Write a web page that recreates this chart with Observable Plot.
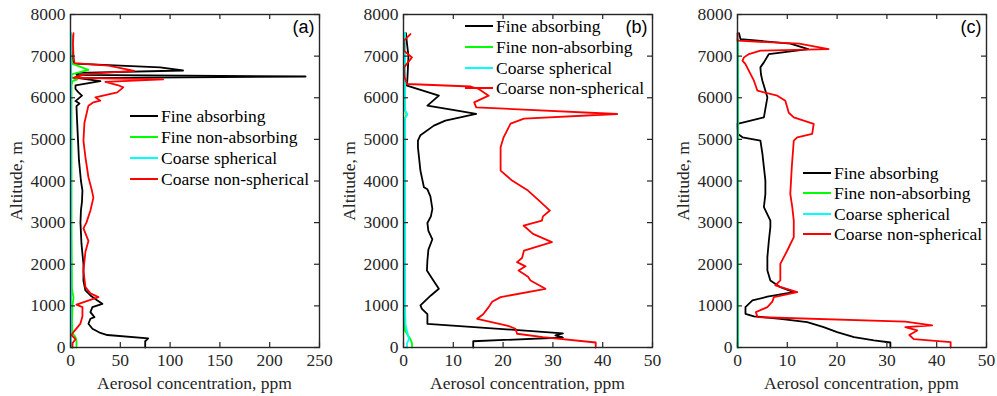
<!DOCTYPE html>
<html><head><meta charset="utf-8">
<script src="https://cdn.jsdelivr.net/npm/d3@7"></script>
<script src="https://cdn.jsdelivr.net/npm/@observablehq/plot@0.6"></script>
<style>
body{margin:0;background:#fff;}
#wrap{position:relative;width:997px;height:396px;overflow:hidden;font-family:"Liberation Serif","Times New Roman",serif;color:#262626;}
.panel{position:absolute;top:0;}
.ylab{position:absolute;font-size:17.5px;line-height:18px;width:120px;height:18px;text-align:center;transform:rotate(-90deg);white-space:nowrap;}
.xlab{position:absolute;font-size:17.5px;line-height:18px;white-space:nowrap;transform:translateX(-50%);}
.legrow{position:absolute;display:flex;align-items:center;height:20px;font-size:17.5px;white-space:nowrap;color:#000;}
.sw{display:inline-block;width:28px;height:0;border-top:2px solid;margin-right:3px;}
</style>
</head><body>
<div id="wrap"></div>
<script>
// ---- series names & colours ----
const seriesNames = ["Fine absorbing", "Fine non-absorbing", "Coarse spherical", "Coarse non-spherical"];
const seriesColors = ["#000000", "#00ff00", "#00ffff", "#ff0000"];
const panelTags = ["(a)", "(b)", "(c)"];
const altTicks = [0, 1000, 2000, 3000, 4000, 5000, 6000, 7000, 8000];
const xTicksA = [0, 50, 100, 150, 200, 250];
const xTicksBC = [0, 10, 20, 30, 40, 50];

// ---- panel (a): [altitude m, concentration ppm] ----
const aFineAbs = [[0,75],[150,75],[220,78],[300,37],[350,30],[450,22],[570,18],[690,20],[730,24],[850,20],[970,22],[1050,32],[1130,27],[1250,20],[1370,15],[1600,13],[2000,13],[2500,11],[3000,10],[3300,10.5],[3500,11.5],[3770,12],[4000,10.5],[4500,8.5],[5000,7.5],[5500,6.5],[5800,6],[5860,9],[5920,5],[6050,11.5],[6130,8],[6210,5],[6300,5],[6400,30],[6470,8],[6510,236],[6550,6],[6600,8],[6655,113],[6730,90],[6820,4],[6900,2],[7000,1.5],[7200,1],[7500,1]];
const aFineNon = [[0,6],[150,6],[250,5],[350,2],[600,1.5],[1000,2],[1200,3],[1400,1.5],[3000,1],[5000,1],[6300,1],[6400,2],[6440,7],[6480,1.5],[6560,1],[6670,18],[6820,1.5],[7000,1],[7550,0.5]];
const aCoarseSph = [[0,0.5],[3000,0.5],[6500,0.6],[7550,0.5]];
const aCoarseNon = [[0,2],[100,2],[200,5],[300,1],[400,4],[575,10],[750,12],[970,12],[1030,6],[1210,28],[1300,20],[1450,15],[1850,13],[2300,15],[2560,18],[2740,15],[2860,13],[3000,16],[3290,20],[3600,23],[3770,21.5],[4090,18],[4570,15],[4970,13],[5400,14],[5810,18],[5890,23],[5930,30],[6010,25],[6130,47],[6250,53],[6300,48],[6380,35],[6440,93],[6480,3],[6570,15],[6645,64],[6770,38],[6830,4],[7000,3],[7300,2.5],[7550,3]];

// ---- panel (b) ----
const bFineAbs = [[0,14],[150,14],[240,32],[290,30.5],[340,32],[570,4.8],[800,4.8],[930,3.7],[1010,3.4],[1250,5.5],[1410,7.1],[1610,6],[1850,4.7],[2090,4.8],[2350,5],[2600,5.8],[2800,5],[2990,4.8],[3150,5.5],[3330,5.8],[3630,5.4],[3800,4.8],[3850,4.1],[4250,3.4],[4810,2.9],[4970,2.9],[5100,3.4],[5330,6.1],[5450,8.4],[5610,14.6],[5690,10.8],[5810,4.8],[6050,7.1],[6290,0.7],[6500,0.8],[7000,1],[7300,0.7],[7550,0.5]];
const bFineNon = [[0,1.7],[100,1.7],[200,1.4],[400,0.3],[1000,0.2],[5500,0.3],[5600,0.6],[5700,0.3],[7550,0.3]];
const bCoarseSph = [[0,0.7],[100,0.7],[200,1.1],[400,0.7],[560,0.4],[1000,0.3],[5500,0.3],[5600,0.8],[5700,0.3],[7550,0.3]];
const bCoarseNon = [[0,38.6],[120,38.6],[250,28],[330,22.8],[450,22.5],[520,21],[690,14.8],[800,16],[970,17.1],[1100,17.8],[1210,19.5],[1410,28.5],[1610,25.5],[1700,25],[1850,23.1],[1950,24.5],[2050,22.8],[2150,23.8],[2330,24.2],[2530,29.8],[2730,26],[2930,24.1],[3050,27.8],[3150,28],[3290,29.4],[3500,27.5],[3770,25],[4010,21.8],[4250,19.5],[4810,19.5],[5050,20.1],[5380,21.5],[5500,24.2],[5610,42.9],[5770,14.6],[5890,14.2],[6050,17.1],[6210,15.1],[6270,13.5],[6330,0.7],[6500,0.2],[6730,0.1],[6970,1.7],[7130,0.1],[7370,0.1],[7530,1.4]];

// ---- panel (c) ----
const cFineAbs = [[0,30.7],[120,30.7],[170,27.4],[250,23.4],[370,20],[490,17.3],[610,14],[690,8.6],[750,3.3],[810,1.6],[970,1.6],[1130,3],[1220,6],[1330,11.3],[1450,8.6],[1610,6.6],[1850,6],[2170,6],[2570,6.3],[2890,6.6],[3050,6.6],[3370,5.3],[3690,5.6],[4010,5.6],[4660,5],[4970,4.6],[5050,1],[5130,0.1],[5370,0],[5530,5.3],[6010,6],[6410,5],[6570,4.7],[6730,4.6],[6850,5.3],[7050,6.3],[7170,14.2],[7300,10.6],[7410,0.6],[7550,0.3]];
const cFineNon = [[0,0.1],[7400,0.1]];
const cCoarseSph = [[0,0],[7400,0]];
const cCoarseNon = [[0,42.8],[130,42.8],[200,35.4],[300,34.5],[410,36.1],[490,33.7],[530,39.1],[620,33.7],[730,4],[850,3.7],[970,6],[1100,7],[1210,7.3],[1330,12],[1490,7.6],[1610,8.6],[2010,8.6],[2330,10],[2650,11.3],[3050,11.3],[3370,11],[3690,10.6],[4330,10.9],[4970,11.3],[5050,12],[5130,15],[5370,15.3],[5530,11.3],[5640,10.3],[5930,9.6],[6050,8],[6170,4],[6410,3.3],[6810,1.6],[6890,1],[6970,1.3],[7050,2.3],[7130,4.6],[7170,18.3],[7300,12.4],[7370,0],[7550,0]];

const panels = [
  {left: 0, width: 332, ml: 70, mr: 13, xmax: 250, xticks: xTicksA, data: [aFineAbs, aFineNon, aCoarseSph, aCoarseNon], legend: {x: 130, ys: [116, 137, 158, 179]}},
  {left: 333, width: 332, ml: 70, mr: 13, xmax: 50, xticks: xTicksBC, data: [bFineAbs, bFineNon, bCoarseSph, bCoarseNon], legend: {x: 465, ys: [26, 47, 68, 88]}},
  {left: 667, width: 330, ml: 70, mr: 11, xmax: 50, xticks: xTicksBC, data: [cFineAbs, cFineNon, cCoarseSph, cCoarseNon], legend: {x: 803, ys: [173, 193, 214, 234]}}
];

const wrap = document.getElementById("wrap");
const H = 396, MT = 14, MB = 49;
const axisCol = "#262626";
const fmt = d => String(d);
const TL = 5; // tick length in px

panels.forEach((p, i) => {
  const plotW = p.width - p.ml - p.mr, plotH = H - MT - MB;
  const lines = p.data.map((arr, k) => Plot.line(arr.map(([a, v]) => ({a, v})), {
    x: "v", y: "a", stroke: seriesColors[k], strokeWidth: 1.8
  }));
  const chart = Plot.plot({
    width: p.width, height: H,
    marginLeft: p.ml, marginRight: p.mr, marginTop: MT, marginBottom: MB,
    style: {fontFamily: "'Liberation Serif', 'Times New Roman', serif", fontSize: "17.5px", color: axisCol, background: "transparent", overflow: "visible"},
    x: {domain: [0, p.xmax], label: null},
    y: {domain: [0, 8000], label: null},
    marks: [
      ...lines,
      Plot.axisX({anchor: "bottom", ticks: p.xticks, tickSize: 0, tickPadding: 6, tickFormat: fmt, label: null, fontSize: 17.5}),
      Plot.axisY({anchor: "left", ticks: altTicks, tickSize: 0, tickPadding: 5, tickFormat: fmt, label: null, fontSize: 17.5}),
      // inward tick marks on all four sides
      Plot.ruleX(p.xticks, {x: d => d, insetTop: plotH - TL, stroke: axisCol, strokeWidth: 1.2}),
      Plot.ruleX(p.xticks, {x: d => d, insetBottom: plotH - TL, stroke: axisCol, strokeWidth: 1.2}),
      Plot.ruleY(altTicks, {y: d => d, insetRight: plotW - TL, stroke: axisCol, strokeWidth: 1.2}),
      Plot.ruleY(altTicks, {y: d => d, insetLeft: plotW - TL, stroke: axisCol, strokeWidth: 1.2}),
      Plot.frame({stroke: axisCol, strokeWidth: 1.4}),
      Plot.text([panelTags[i]], {frameAnchor: "top-right", textAnchor: "end", lineAnchor: "top", dx: -5, dy: 6, fontFamily: "'Liberation Sans', Arial, sans-serif", fontSize: 18, fill: "#000"})
    ]
  });
  const holder = document.createElement("div");
  holder.className = "panel";
  holder.style.left = p.left + "px";
  holder.appendChild(chart);
  wrap.appendChild(holder);

  const plotL = p.left + p.ml, plotR = p.left + p.width - p.mr;
  const xl = document.createElement("div");
  xl.className = "xlab";
  xl.textContent = "Aerosol concentration, ppm";
  xl.style.left = ((plotL + plotR) / 2) + "px";
  xl.style.top = "374px";
  wrap.appendChild(xl);

  const yl = document.createElement("div");
  yl.className = "ylab";
  yl.textContent = "Altitude, m";
  yl.style.left = (plotL - 54 - 60) + "px";
  yl.style.top = ((MT + H - MB) / 2 - 9) + "px";
  wrap.appendChild(yl);

  seriesNames.forEach((name, k) => {
    const row = document.createElement("div");
    row.className = "legrow";
    row.style.left = p.legend.x + "px";
    row.style.top = (p.legend.ys[k] - 10) + "px";
    const sw = document.createElement("span");
    sw.className = "sw";
    sw.style.borderTopColor = seriesColors[k];
    row.appendChild(sw);
    row.appendChild(document.createTextNode(name));
    wrap.appendChild(row);
  });
});
</script>
</body></html>
